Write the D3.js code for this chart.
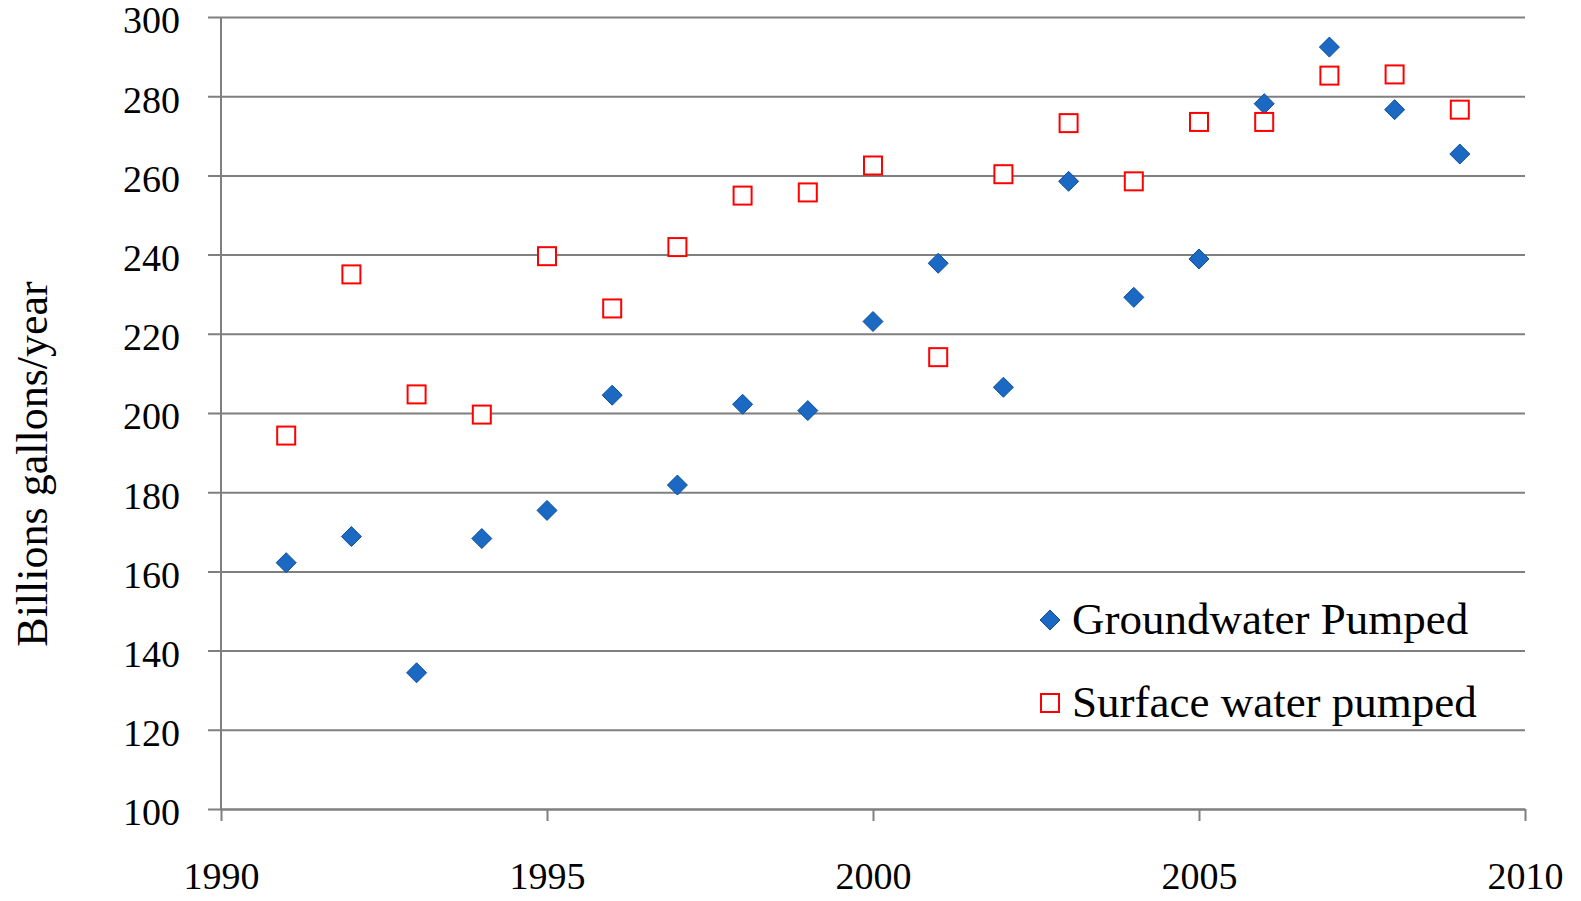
<!DOCTYPE html>
<html>
<head>
<meta charset="utf-8">
<script src="https://cdnjs.cloudflare.com/ajax/libs/d3/7.8.5/d3.min.js"></script>
<style>
  body { margin: 0; background: #fff; }
  svg { display: block; font-family: "Liberation Serif", "DejaVu Serif", serif; }
  .grid line { stroke: #7f7f7f; stroke-width: 2px; }
  .axis path, .axis line { stroke: #7f7f7f; stroke-width: 2px; }
  .axis text, .grid text { fill: #000; font-size: 38px; font-family: "Liberation Serif", "DejaVu Serif", serif; }
</style>
</head>
<body>
<script>
var years = [1991, 1992, 1993, 1994, 1995, 1996, 1997, 1998, 1999, 2000,
             2001, 2002, 2003, 2004, 2005, 2006, 2007, 2008, 2009];
var groundwater = [162.2, 168.8, 134.4, 168.3, 175.4, 204.5, 181.8, 202.2, 200.6, 223.1,
                   237.8, 206.5, 258.5, 229.2, 238.9, 278.1, 292.4, 276.6, 265.4];
var surface = [194.3, 235.0, 204.7, 199.6, 239.6, 226.4, 241.9, 254.9, 255.7, 262.5,
               214.1, 260.3, 273.2, 258.5, 273.5, 273.5, 285.2, 285.5, 276.6];
var xTicks = [1990, 1995, 2000, 2005, 2010];
var yTicks = [100, 120, 140, 160, 180, 200, 220, 240, 260, 280, 300];
var seriesNames = ["Groundwater Pumped", "Surface water pumped"];

var W = 1581, H = 901;
var margin = {top: 17, right: 56, bottom: 92, left: 221},
    width = W - margin.left - margin.right,
    height = H - margin.top - margin.bottom;

var svg = d3.select("body").append("svg").attr("width", W).attr("height", H)
    .append("g").attr("transform", "translate(" + margin.left + "," + margin.top + ")");

var x = d3.scaleLinear().domain([1990, 2010]).range([0, width]);
var y = d3.scaleLinear().domain([100, 300]).range([height, 0]);

// gridlines + y labels (axis sits on the right edge, ticks run left past the y axis)
var grid = svg.append("g").attr("class", "grid")
    .attr("transform", "translate(" + width + ",0)")
    .call(d3.axisLeft(y).tickValues(yTicks).tickSize(width + 13).tickPadding(28));
grid.select(".domain").remove();
grid.selectAll("text").attr("dy", "0.42em");

// y axis line
svg.append("line")
    .attr("x1", 0).attr("x2", 0).attr("y1", 0).attr("y2", height)
    .attr("stroke", "#7f7f7f").attr("stroke-width", 2);

// x axis
svg.append("g").attr("class", "axis")
    .attr("transform", "translate(0," + height + ")")
    .call(d3.axisBottom(x).tickValues(xTicks).tickFormat(d3.format("d")).tickSize(12).tickSizeOuter(0).tickPadding(41));

// y axis title
svg.append("text")
    .attr("transform", "translate(-174,447) rotate(-90)")
    .attr("text-anchor", "middle")
    .attr("font-size", 44)
    .text("Billions gallons/year");

// groundwater diamonds
var diamond = d3.symbol().type(d3.symbolDiamond2).size(255);
svg.append("g").selectAll("path").data(years).enter().append("path")
    .attr("d", diamond)
    .attr("transform", function(d, i) { return "translate(" + x(d) + "," + y(groundwater[i]) + ")"; })
    .attr("fill", "#1c69c4").attr("stroke", "#0e4f98").attr("stroke-width", 1);

// surface squares
svg.append("g").selectAll("rect").data(years).enter().append("rect")
    .attr("x", function(d) { return x(d) - 9; })
    .attr("y", function(d, i) { return y(surface[i]) - 9; })
    .attr("width", 18).attr("height", 18)
    .attr("fill", "#fff").attr("stroke", "#ff0000").attr("stroke-width", 2);

// legend
var lg = svg.append("g").attr("transform", "translate(" + (1050 - margin.left) + "," + (620 - margin.top) + ")");
lg.append("path").attr("d", diamond)
    .attr("fill", "#1c69c4").attr("stroke", "#0e4f98").attr("stroke-width", 1);
lg.append("text").attr("x", 22).attr("y", 14).attr("font-size", 45).text(seriesNames[0]);
lg.append("rect").attr("x", -9).attr("y", 83 - 9).attr("width", 18).attr("height", 18)
    .attr("fill", "#fff").attr("stroke", "#ff0000").attr("stroke-width", 2);
lg.append("text").attr("x", 22).attr("y", 97).attr("font-size", 45).text(seriesNames[1]);
</script>
</body>
</html>
